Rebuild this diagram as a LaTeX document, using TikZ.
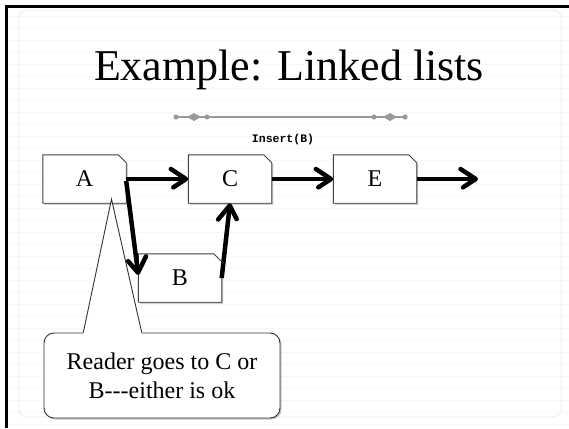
\documentclass[tikz,border=0pt]{standalone}
\usepackage{fontspec}
\setmainfont{Liberation Serif}
\newfontfamily\monob{Liberation Mono}
\usetikzlibrary{arrows.meta,shadows,decorations.markings}
\pgfdeclarelayer{bg}
\pgfdeclarelayer{back}
\pgfsetlayers{bg,back,main}
\newcommand\tagpath[2]{([shift={#2}]#1.south west) -- ([shift={#2}]#1.north west) -- ([shift={#2},xshift=-8pt]#1.north east) -- ([shift={#2},yshift=-8pt]#1.north east) -- ([shift={#2}]#1.south east) -- cycle}
\definecolor{ornc}{HTML}{9A9A9A}
\begin{document}
\begin{tikzpicture}[x=1pt,y=-1pt,
  lbox/.style={minimum width=83pt,minimum height=48pt,inner sep=0pt,font=\fontsize{24}{28}\selectfont},
  outline/.style={draw=black!75,line width=0.9pt,fill=white},
  shade/.style={fill=black!28},
  link/.style={line width=4.5pt,shorten >=3pt,
    postaction={decorate,decoration={markings,mark=at position 1 with {
      \draw[line width=4.5pt,line cap=round,line join=round] (-17.5pt,10pt) -- (-2.3pt,0pt) -- (-17.5pt,-10pt);}}}},
  notebox/.style={draw=black!80,line width=0.9pt,fill=white,rounded corners=10pt,
    minimum width=236pt,minimum height=85pt,inner sep=0pt,align=center,
    font=\fontsize{24}{29}\selectfont,
    drop shadow={shadow xshift=1.5pt,shadow yshift=-1.5pt,fill=black!45}},
  ]
\useasboundingbox (0,0) rectangle (569,428);
\begin{pgfonlayer}{bg}
  \fill[white] (0,0) rectangle (569,428);
  \foreach \yy in {16,28,...,428} \draw[black!3,line width=0.6pt] (8,\yy) -- (569,\yy);
  \draw[black!7,line width=0.8pt,rounded corners=8pt] (19,10) rectangle (561,417);
  \draw[line width=2.6pt] (5,6.5) -- (569,6.5);
  \draw[line width=2.6pt] (6.5,5) -- (6.5,428);
\end{pgfonlayer}

% title
\node[anchor=base,font=\fontsize{44}{50}\selectfont,inner sep=0pt] (title) at (289,80.5) {Example: Linked lists};
% ornament
\draw[ornc,line width=1.1pt] (176,117) -- (405,117);
\foreach \xx in {176,207,374,405} \fill[ornc] (\xx,117) circle (2.6);
\foreach \xx in {194,390} \fill[ornc] (\xx-7,117) -- (\xx,113) -- (\xx+7,117) -- (\xx,121) -- cycle;
\node[anchor=base,font=\monob\bfseries\fontsize{11.5}{13}\selectfont,inner sep=0pt] (op) at (283,142) {Insert(B)};

% list nodes
\node[lbox] (A) at (84.5,179) {A};
\node[lbox] (C) at (230,179) {C};
\node[lbox] (E) at (375,179) {E};
\node[lbox] (B) at (180,278) {B};
\begin{pgfonlayer}{back}
  \foreach \n in {A,B,C,E}{
    \fill[shade] \tagpath{\n}{(1.5,1.5)};
    \draw[outline] \tagpath{\n}{(0,0)};
  }
\end{pgfonlayer}

% links
\coordinate (end) at (478,179);
\draw[link] (A.east) -- (C.west);
\draw[link] (C.east) -- (E.west);
\draw[link] (E.east) -- (end);
\draw[link] ([yshift=-2pt]A.east) -- ([yshift=3pt]B.west);
\draw[link] (B.east) -- (C.south);

% callout
\node[notebox] (note) at (162,375.5) {Reader goes to C or\\B-{}-{}-either is ok};
\coordinate (tip) at ([xshift=27pt,yshift=4pt]A.south);
\fill[white] ([xshift=-78.7pt,yshift=-1.2pt]note.north) -- (tip) -- ([xshift=-20.3pt,yshift=-1.2pt]note.north) -- cycle;
\draw[black!80,line width=0.9pt,line join=miter] ([xshift=-78.7pt]note.north) -- (tip) -- ([xshift=-20.3pt]note.north);
\end{tikzpicture}
\end{document}
